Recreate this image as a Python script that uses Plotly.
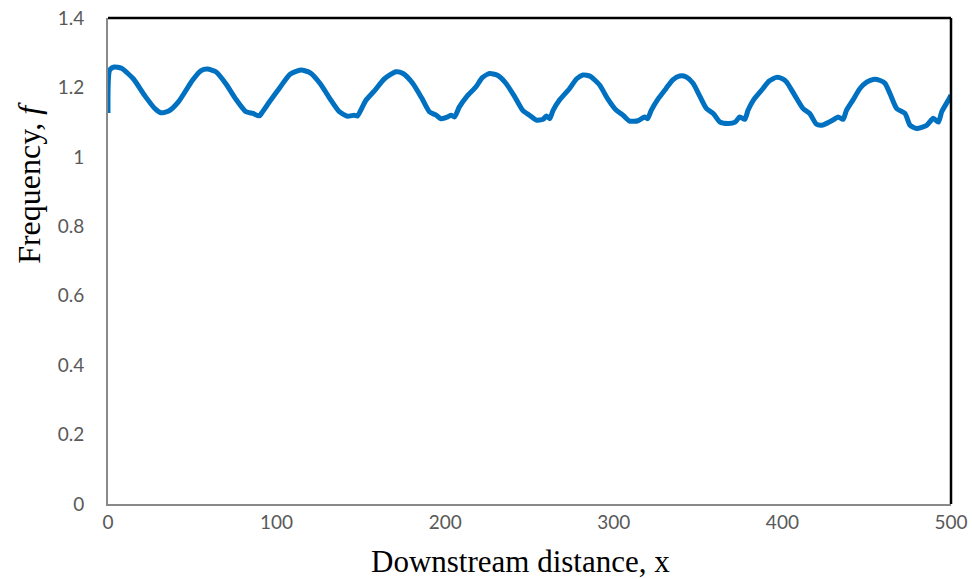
import plotly.graph_objects as go

x_vals = [0, 1, 3.6, 8, 15, 22, 28, 31.3, 36, 42, 50, 55, 59, 64, 70, 76, 81.8, 86, 89.7, 91.7,
          96, 102, 108, 114.4, 120, 126, 132, 137.2, 142, 146, 148, 150, 153, 158, 164, 170.8,
          175, 180.7, 186, 190.6, 194.6, 197.5, 201.5, 203.5, 205.5, 208.4, 213, 218.3, 222, 226.2,
          231, 236, 241, 246, 250, 254, 258, 260, 262, 264, 268, 273.8, 278, 281.7, 286, 291.6,
          296, 301.5, 305.5, 309.4, 314.3, 318.3, 320, 322.2, 326, 331, 335, 339, 343, 347, 351,
          355, 359, 362.8, 367.8, 372, 374.7, 377.7, 379.6, 383, 388.5, 392, 396.5, 400, 402.4,
          407, 412.3, 416.2, 420.2, 424, 430, 433, 436, 438, 442, 446, 450, 453.9, 458, 460.8,
          464, 467.8, 472.7, 475.7, 479.6, 485.6, 489.5, 492.5, 494.5, 498.4, 500]
f_vals = [1.126, 1.25, 1.259, 1.255, 1.225, 1.175, 1.138, 1.127, 1.132, 1.16, 1.22, 1.248, 1.253,
          1.245, 1.21, 1.165, 1.130, 1.125, 1.118, 1.130,
          1.16, 1.2, 1.238, 1.250, 1.242, 1.21, 1.165, 1.130, 1.117, 1.12, 1.118, 1.135, 1.163,
          1.19, 1.225, 1.245,
          1.24, 1.212, 1.17, 1.130, 1.120, 1.11, 1.115, 1.12, 1.115, 1.144, 1.175, 1.202, 1.228, 1.240,
          1.235, 1.212, 1.175, 1.134, 1.120, 1.106, 1.108, 1.118, 1.11, 1.134, 1.165, 1.197, 1.225,
          1.236, 1.232, 1.207,
          1.17, 1.134, 1.12, 1.103, 1.104, 1.115, 1.11, 1.134, 1.165, 1.197, 1.222, 1.233, 1.23,
          1.212, 1.175,
          1.139, 1.125, 1.101, 1.096, 1.10, 1.115, 1.108, 1.134, 1.165, 1.197, 1.218, 1.229, 1.225,
          1.216,
          1.18, 1.139, 1.125, 1.094, 1.092, 1.106, 1.115, 1.108, 1.134, 1.165, 1.197, 1.215, 1.223,
          1.22, 1.212,
          1.18, 1.139, 1.125, 1.091, 1.082, 1.091, 1.111, 1.10, 1.130, 1.163, 1.178]

x_ticks = [0, 100, 200, 300, 400, 500]
y_ticks = [0, 0.2, 0.4, 0.6, 0.8, 1, 1.2, 1.4]
y_tick_text = ["0", "0.2", "0.4", "0.6", "0.8", "1", "1.2", "1.4"]

fig = go.Figure()
fig.add_trace(go.Scatter(x=x_vals, y=f_vals, mode="lines",
                         line=dict(color="#0070C0", width=5, shape="spline", smoothing=0.6),
                         showlegend=False))

tick_font = dict(family="Lato, Open Sans, sans-serif", size=19, color="#595959")
serif = "Liberation Serif, Times New Roman, serif"
fig.update_layout(
    width=972, height=579,
    margin=dict(l=108, r=21, t=18, b=75),
    paper_bgcolor="white", plot_bgcolor="white",
    xaxis=dict(range=[0, 500], tickvals=x_ticks, showgrid=False, zeroline=False,
               showline=True, linecolor="#898989", linewidth=2, ticks="",
               tickfont=tick_font, ticklabelstandoff=0, automargin=False),
    yaxis=dict(range=[0, 1.4], tickvals=y_ticks, ticktext=y_tick_text, showgrid=False,
               zeroline=False, showline=True, linecolor="#898989", linewidth=2, ticks="",
               tickfont=tick_font, ticklabelstandoff=18, automargin=False),
)
# top and right black frame
fig.add_shape(type="line", xref="paper", yref="paper", x0=0, x1=1, y0=1, y1=1,
              line=dict(color="black", width=2.5))
fig.add_shape(type="line", xref="paper", yref="paper", x0=1, x1=1, y0=0, y1=1,
              line=dict(color="black", width=2.5))
# axis titles
fig.add_annotation(text="Downstream distance, x", xref="paper", yref="paper",
                   x=0.489, y=-0.118, xanchor="center", yanchor="middle",
                   showarrow=False, font=dict(family=serif, size=31, color="black"))
fig.add_annotation(text="Frequency, <i>f</i>", xref="paper", yref="paper",
                   x=-0.093, y=0.66, xanchor="center", yanchor="middle", textangle=-90,
                   showarrow=False, font=dict(family=serif, size=32, color="black"))

fig.write_html("out.html")
